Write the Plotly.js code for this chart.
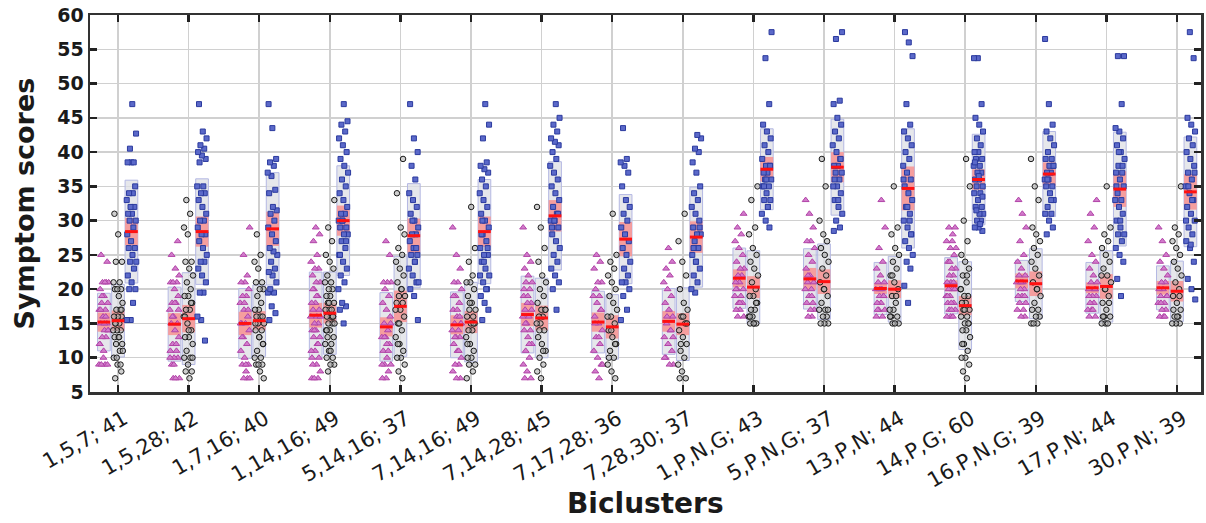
<!DOCTYPE html>
<html>
<head>
<meta charset="utf-8">
<script src="https://cdn.plot.ly/plotly-3.0.1.min.js"></script>
<style>html,body{margin:0;padding:0;background:#fff}#chart{width:1206px;height:523px}</style>
</head>
<body>
<div id="chart"></div>
<script>
// Bicluster labels (x categories)
const clusters = ["1,5,7; 41","1,5,28; 42","1,7,16; 40","1,14,16; 49","5,14,16; 37","7,14,16; 49","7,14,28; 45","7,17,28; 36","7,28,30; 37","1,P,N,G; 43","5,P,N,G; 37","13,P,N; 44","14,P,G; 60","16,P,N,G; 39","17,P,N; 44","30,P,N; 39"];
const xTitle = 'Biclusters';
const yTitle = 'Symptom scores';

// Individual symptom scores (estimated) — magenta triangles
const magPts = [
 [9,9,9,9,11,12,13,13,14,14,15,15,16,17,17,18,18,19,20,21,21,21,21,25,24,10,12,16,19,14,15,17],
 [7,7,7,9,10,10,11,11,12,13,14,15,15,16,17,18,18,19,20,21,21,21,22,23,25,27,9,10,12,16,17,18],
 [7,7,7,8,9,9,10,11,12,13,14,15,15,16,17,18,19,19,20,21,21,22,25,29,9,13,17,18,15],
 [7,7,7,8,9,9,10,11,11,12,13,13,14,14,15,15,16,16,17,17,18,18,19,20,21,21,22,23,23,24,25,27,28,29,10,12,14,16,19,20],
 [7,7,8,9,9,10,11,12,13,13,14,15,16,17,18,19,20,21,21,21,25,27,9,11,13,15,12],
 [7,7,8,9,9,10,11,12,13,13,14,14,15,15,16,17,18,19,20,21,21,23,25,29,11,13,15,17,19,16],
 [7,7,8,9,10,11,12,13,14,14,15,16,16,17,18,18,19,20,21,21,22,23,24,25,29,12,15,17,19,20],
 [7,8,9,10,11,12,13,14,15,16,17,18,19,19,20,21,21,23,24,25,9,13,15,17],
 [9,9,10,11,12,13,14,15,16,17,18,19,20,21,22,23,24,26,10,14,16,13],
 [16,16,17,17,18,18,19,19,20,20,21,21,22,22,23,23,24,25,26,27,28,29,31,18,20],
 [16,16,17,17,18,18,19,20,20,21,21,22,23,24,25,26,27,27,29,31,33,19,22],
 [16,16,17,17,18,18,19,19,20,20,21,21,22,23,24,26,29,33,17,19,20],
 [16,16,16,17,17,17,18,18,19,19,20,20,20,21,21,22,22,23,23,24,25,26,27,28,29,29,18,19,21,24,26,27],
 [16,16,17,17,18,18,19,19,20,20,21,21,22,22,23,24,25,27,29,31,33,19,21],
 [16,16,17,17,18,18,19,19,20,20,21,21,22,23,24,25,27,29,31,33,17,19,20],
 [16,16,17,17,18,18,19,19,20,20,21,21,22,23,24,25,27,29,16,18,19]
];
// black circles
const blkPts = [
 [7,8,9,10,11,12,12,13,13,14,14,14,15,15,16,16,16,17,17,18,19,20,20,20,21,21,24,24,28,31,9,10,11,13,15,17],
 [7,8,8,9,10,10,11,12,13,13,14,15,16,17,17,18,19,19,20,21,22,23,24,24,28,29,31,33,10,14,16,18],
 [7,8,9,9,9,10,10,11,12,13,14,14,15,15,16,16,16,17,17,18,19,20,20,21,21,23,24,25,28,12,13,15],
 [8,9,9,10,10,11,12,12,13,13,14,14,15,15,15,16,16,16,17,17,17,18,18,19,19,20,20,21,21,22,23,24,25,27,29,33,11,14,16,18],
 [7,8,9,10,10,11,12,13,14,15,16,17,18,18,19,19,20,21,22,23,24,25,26,28,29,34,39,15,17,20,12],
 [7,8,9,9,10,10,11,12,13,14,14,15,15,16,16,17,17,18,19,20,21,21,22,24,26,32,12,15,18],
 [7,8,9,10,11,12,13,14,15,15,16,16,17,17,18,19,20,21,22,24,26,29,32,11,14,17],
 [7,8,9,10,11,12,13,14,15,16,17,18,19,20,21,22,23,24,25,31,10,12,14,16],
 [7,7,8,9,10,11,12,13,14,15,16,17,18,20,22,24,27,31,12,15,16],
 [15,15,15,16,16,17,17,18,19,19,20,21,22,23,24,25,26,28,29,33,35,15,16,18],
 [15,15,15,16,16,17,17,18,19,20,21,22,23,24,25,26,27,28,30,35,39,17,20],
 [15,15,15,16,16,17,17,18,19,20,21,22,23,24,25,26,28,29,35,16,19,22],
 [7,8,9,10,10,11,12,13,14,14,15,15,16,16,17,17,18,18,19,19,20,21,22,23,24,25,27,30,35,39,12,15,17,20,22],
 [15,15,15,16,16,17,17,18,19,20,21,22,23,24,25,26,27,28,29,33,35,39,20],
 [15,15,15,16,16,17,18,19,20,21,22,23,24,25,26,27,28,29,35,16,18,20,22],
 [15,15,15,16,16,17,18,19,20,21,22,23,24,25,26,27,28,29,35,16,17,19]
];
// blue squares
const bluPts = [
 [15.5,15.5,18,20,20,21,22,23,24,24,25,26,26,27,28,29,30,30,31,31,32,32,33,34,34,35,38.5,38.5,38.5,40.5,42.7,47],
 [12.5,15.5,16,19.5,19.5,21,22,23,24,24,25,26,27,28,28,29,30,30,31,32,33,34,34,35,35,38.5,39,39.5,40,40.5,41,42,43,47],
 [15.5,16.5,17.5,19.5,19.5,20,21,22,22.5,23,24,25,25.5,26,27,28,29,30,31,31.5,32,34,34.5,36.5,37,38,38.5,39,43.5,47],
 [15,17,17.5,18,20,21,22,23,24,25,26,27,28,28,29,29,30,30,31,31,32,33,34,35,36,37,38,39,40,41,42,43,44,44.5,47,25,27,30],
 [15.5,19,20,21,22,23,24,25,25,26,27,28,28,29,30,31,32,33,34,36,38,40,42,47,26,30,21,24],
 [15.5,17,18,19,20,21,22,23,24,25,25,26,27,28,29,30,31,32,33,34,35,36,37,37.5,38,38.5,42,44,47,28,26,24,22,20,30],
 [17,20,21,22,23,24,25,26,27,28,29,30,30,31,32,33,34,35,36,37,38,39,40,41,41.5,42,43,44,45,47,29,31,30],
 [15.5,17,19,20,21,21,22,23,24,25,26,27,28,29,30,31,32,33,35,37,38,38.5,39,43.5],
 [19.5,20,21,22,23,24,25,26,27,28,28,29,30,31,32,33,34,35,37,38.5,40,40.5,42,42.5,26,29,24],
 [29,30,31,32,33,33,34,35,35,36,36,37,37,38,38,39,40,41,42,43,44,47,53.7,57.5,32,35,38,36],
 [28.5,29,30,31,32,33,34,35,35,36,37,37,38,38,39,40,41,42,43,44,45,47,47.5,56.5,57.5,33,36,39],
 [18,20.5,23,24,25,26,27,28,29,30,31,32,33,34,35,36,37,38,39,40,41,42,43,44,47,54,56,57.5,28,32,36,30],
 [28.5,29,29,30,30,31,31,32,32,33,34,34,35,35,36,36,37,37,38,38,39,39,40,40,41,42,43,44,45,47,53.7,53.7,29.5,31.5,33.5,36.5,38.5],
 [28,29,30,31,31,32,33,34,35,35,36,36,37,37,38,38,39,39,40,41,42,43,44,47,56.5,33,36,38],
 [19,21.5,24,25,26,27,28,28,29,30,31,32,33,33,34,35,36,37,37,38,39,40,41,42,43,43.5,47,54,54,30,35,38,40],
 [18.5,20,21.5,24,26,27,28,29,30,31,32,33,34,35,36,37,38,39,40,41,42,43,44,45,53.7,57.5,30,33,35,37,26.5]
];

// Summary statistics: mean, SD (grey box half-height), 95% CI (pink half-height)
const magMean = [15.2,14.9,15.0,16.2,14.5,14.8,16.3,15.2,15.3,21.6,21.5,20.1,20.5,21.2,20.2,20.2];
const magSd   = [4.2,5.4,5.1,6.3,5.0,4.8,5.6,4.5,4.8,4.4,4.4,3.8,4.1,3.0,3.7,3.2];
const magCi   = [1.4,1.6,1.7,1.8,1.4,1.4,1.7,1.4,1.5,1.3,1.6,0.8,0.8,1.1,0.8,1.0];
const blkMean = [15.4,15.7,15.4,16.5,17.5,15.2,15.8,14.5,14.9,20.3,21.1,20.0,17.6,20.8,20.4,19.7];
const blkSd   = [5.3,6.7,5.2,6.0,7.3,5.8,5.8,4.7,5.3,5.3,5.5,4.8,6.4,5.1,5.2,4.4];
const blkCi   = [1.5,2.0,1.4,1.5,2.3,1.6,1.8,1.7,1.6,1.6,1.8,1.3,1.4,1.8,1.8,1.5];
const bluMean = [28.4,28.4,28.8,30.0,27.8,28.4,30.7,27.3,27.6,37.5,37.8,34.7,36.0,36.8,34.6,34.2];
const bluSd   = [7.5,7.7,8.2,8.0,7.6,7.6,7.9,6.5,7.3,5.9,7.0,8.7,6.6,6.2,8.3,8.0];
const bluCi   = [2.0,2.2,2.5,2.2,2.5,2.2,2.3,2.5,2.3,1.8,2.2,3.2,1.5,1.7,2.6,2.6];

const groups = [
  {pts: magPts, mean: magMean, sd: magSd, ci: magCi, off: -0.2,
   marker: {symbol: 'triangle-up', size: 6, color: '#d27bcb', line: {color: '#b144a7', width: 1}}},
  {pts: blkPts, mean: blkMean, sd: blkSd, ci: blkCi, off: 0,
   marker: {symbol: 'circle', size: 5.5, color: 'rgba(175,175,175,0.6)', line: {color: '#1a1a1a', width: 1}}},
  {pts: bluPts, mean: bluMean, sd: bluSd, ci: bluCi, off: 0.19,
   marker: {symbol: 'square', size: 5, color: '#5b69c9', line: {color: '#2b3a9e', width: 1}}}
];

const halfW = 0.09;
const traces = [];
const shapes = [];
groups.forEach((g, gi) => {
  const xs = [], ys = [];
  g.pts.forEach((arr, ci) => {
    arr.forEach((v, k) => {
      const j = ((k * 0.6180339887 + ci * 0.371 + gi * 0.213) % 1) - 0.5;
      xs.push(ci + g.off + j * 0.14);
      ys.push(v);
    });
    const xc = ci + g.off;
    shapes.push({type: 'rect', layer: 'between', xref: 'x', yref: 'y',
      x0: xc - halfW, x1: xc + halfW, y0: g.mean[ci] - g.sd[ci], y1: g.mean[ci] + g.sd[ci],
      fillcolor: 'rgba(222,223,228,0.75)', line: {color: '#b4b8e3', width: 1}});
    shapes.push({type: 'rect', layer: 'between', xref: 'x', yref: 'y',
      x0: xc - halfW, x1: xc + halfW, y0: g.mean[ci] - g.ci[ci], y1: g.mean[ci] + g.ci[ci],
      fillcolor: 'rgba(246,150,150,0.9)', line: {width: 0}});
    shapes.push({type: 'line', layer: 'above', xref: 'x', yref: 'y',
      x0: xc - halfW, x1: xc + halfW, y0: g.mean[ci], y1: g.mean[ci],
      line: {color: '#ff1111', width: 3}});
  });
  traces.push({type: 'scatter', mode: 'markers', x: xs, y: ys, marker: g.marker,
    hoverinfo: 'y', showlegend: false});
});

const layout = {
  width: 1206, height: 523,
  margin: {l: 90, r: 5, t: 15, b: 131},
  paper_bgcolor: '#fff', plot_bgcolor: '#fff',
  font: {family: 'DejaVu Sans, sans-serif', color: '#1a1a1a'},
  showlegend: false,
  xaxis: {
    range: [-0.397, 15.34], tickmode: 'array',
    tickvals: clusters.map((c, i) => i), ticktext: clusters,
    tickangle: -30, tickfont: {family: 'DejaVu Sans', size: 21, color: '#1a1a1a'},
    ticklabelstandoff: 4, ticklabelshift: 6,
    showgrid: true, gridcolor: '#d0d0d0', gridwidth: 1.5,
    ticks: 'inside', ticklen: 7, tickwidth: 2.5, tickcolor: '#222',
    showline: true, linecolor: '#333', linewidth: 2.5, mirror: 'ticks', zeroline: false
  },
  yaxis: {
    range: [5, 60], tickmode: 'linear', tick0: 5, dtick: 5,
    tickfont: {family: 'DejaVu Sans', size: 19, color: '#1a1a1a', weight: 'bold'},
    showgrid: true, gridcolor: '#d0d0d0', gridwidth: 1.5,
    ticks: 'inside', ticklen: 7, tickwidth: 2.5, tickcolor: '#222',
    showline: true, linecolor: '#333', linewidth: 2.5, mirror: 'ticks', zeroline: false
  },
  annotations: [
    {text: '<b>' + xTitle + '</b>', xref: 'paper', yref: 'paper', x: 0.5, y: 0,
     xanchor: 'center', yanchor: 'middle', yshift: -111, showarrow: false,
     font: {family: 'DejaVu Sans', size: 28, color: '#1a1a1a'}},
    {text: '<b>' + yTitle + '</b>', xref: 'paper', yref: 'paper', x: 0, y: 0.5,
     xanchor: 'center', yanchor: 'middle', xshift: -66, textangle: -90, showarrow: false,
     font: {family: 'DejaVu Sans', size: 27, color: '#1a1a1a'}}
  ],
  shapes: shapes
};

Plotly.newPlot('chart', traces, layout, {displayModeBar: false, staticPlot: true});
</script>
</body>
</html>
